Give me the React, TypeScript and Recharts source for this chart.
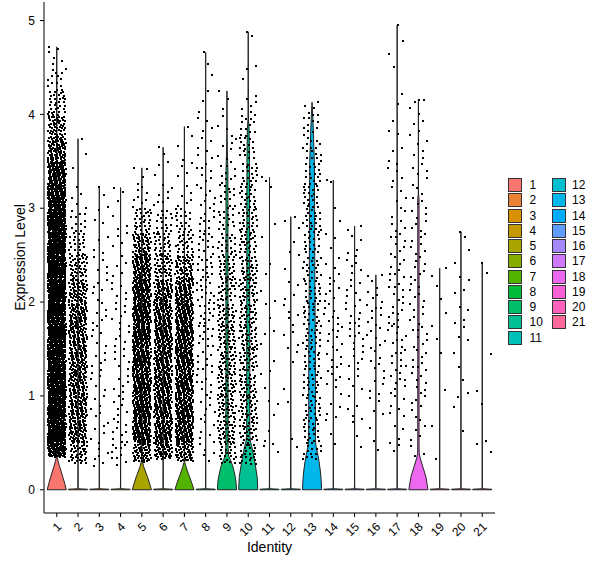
import { ComposedChart, Scatter, XAxis, YAxis } from 'recharts';

const FONT = '"Liberation Sans", Arial, Helvetica, sans-serif';

const identities = ['1', '2', '3', '4', '5', '6', '7', '8', '9', '10', '11', '12', '13', '14', '15', '16', '17', '18', '19', '20', '21'];
const identityTicks = [1, 2, 3, 4, 5, 6, 7, 8, 9, 10, 11, 12, 13, 14, 15, 16, 17, 18, 19, 20, 21];
const levelTicks = [0, 1, 2, 3, 4, 5];

const identityColors = [
  '#F8766D', '#EB8335', '#DA8F00', '#C49A00', '#A9A400', '#86AC00', '#53B400',
  '#00BA38', '#00BE6C', '#00C094', '#00C0B5', '#00BDD2', '#00B6EB', '#00ABFD',
  '#619CFF', '#A58AFF', '#CF78FF', '#EC69EF', '#FB61D7', '#FF62BC', '#FF6A9A',
];

// smallest and largest non-zero expression per identity
const lowestLevel = [0.35, 0.28, 0.22, 0.2, 0.3, 0.33, 0.3, 0.3, 0.27, 0.27, 0.35, 0.4, 0.3, 0.45, 0.35, 0.35, 0.35, 0.3, 0.3, 0.55, 0.3];
const highestLevel = [4.72, 3.74, 3.23, 3.22, 3.43, 3.65, 3.87, 4.66, 4.25, 4.88, 3.33, 2.91, 4.13, 3.3, 2.81, 2.29, 4.95, 4.15, 2.36, 2.75, 2.42];

// expressing cells per 0.25-wide bin; bin k covers 0.25 + 0.25k .. 0.5 + 0.25k
const BIN = 0.25;
const cellsPerBin: number[][] = [
  [100, 175, 175, 175, 175, 175, 175, 175, 175, 170, 160, 140, 115, 80, 55, 30, 14, 5],
  [40, 75, 75, 75, 75, 75, 75, 65, 45, 22, 12, 5, 1, 1],
  [6, 6, 6, 5, 6, 6, 6, 6, 5, 4, 3, 2],
  [10, 9, 7, 7, 7, 7, 7, 6, 5, 4, 3, 2],
  [55, 110, 110, 110, 110, 110, 110, 105, 90, 60, 30, 8, 3],
  [50, 90, 90, 90, 90, 90, 85, 75, 45, 30, 18, 8, 3, 1],
  [55, 100, 100, 100, 100, 100, 95, 80, 55, 30, 18, 6, 4, 2, 1],
  [5, 6, 7, 8, 10, 12, 14, 14, 14, 12, 10, 8, 8, 6, 4, 3, 1, 1],
  [25, 40, 40, 40, 40, 38, 36, 32, 28, 22, 16, 13, 10, 6, 4, 2],
  [25, 35, 35, 35, 35, 35, 35, 35, 33, 30, 27, 22, 20, 17, 13, 6, 2, 1, 1],
  [3, 2, 3, 2, 2, 3, 2, 2, 2, 1, 1, 1, 1],
  [1, 1, 1, 1, 2, 4, 5, 4, 2, 2, 2],
  [15, 20, 20, 20, 20, 20, 20, 20, 20, 20, 20, 20, 18, 16, 12, 3],
  [1, 2, 4, 6, 8, 8, 8, 7, 5, 3, 1, 1, 1],
  [1, 2, 4, 5, 7, 8, 8, 7, 6, 4, 1],
  [1, 2, 4, 5, 6, 7, 8, 6, 1],
  [2, 4, 6, 8, 9, 9, 9, 8, 8, 8, 6, 5, 5, 3, 3, 2, 0, 2, 1],
  [3, 5, 6, 7, 8, 8, 7, 7, 7, 7, 7, 6, 6, 5, 5, 3],
  [1, 1, 0, 1, 1, 2, 1, 2, 1],
  [0, 1, 2, 2, 2, 3, 4, 3, 2, 2],
  [2, 1, 1, 1, 1, 0, 0, 0, 1],
];

// violin half-widths (in identity units) at given levels; scale = "width"
const zeroSpike = [[0, 0.45], [0.006, 0.45], [0.011, 0.01], [0.05, 0.004]];
const violinShapes: Record<number, number[][]> = {
  1: [[0, 0.45], [0.07, 0.37], [0.14, 0.28], [0.2, 0.2], [0.25, 0.13], [0.3, 0.07], [0.34, 0.025], [0.4, 0.012], [4.3, 0.01]],
  5: [[0, 0.45], [0.07, 0.36], [0.14, 0.26], [0.2, 0.16], [0.25, 0.08], [0.3, 0.03], [0.35, 0.01]],
  7: [[0, 0.45], [0.07, 0.35], [0.14, 0.24], [0.2, 0.14], [0.25, 0.07], [0.29, 0.02], [0.35, 0.008]],
  9: [[0, 0.45], [0.07, 0.43], [0.14, 0.39], [0.24, 0.29], [0.31, 0.18], [0.36, 0.08], [0.45, 0.055], [3.4, 0.045], [3.6, 0.02], [3.8, 0.008]],
  10: [[0, 0.45], [0.14, 0.42], [0.31, 0.3], [0.45, 0.18], [0.52, 0.1], [0.6, 0.075], [2.0, 0.07], [3.5, 0.06], [3.85, 0.04], [3.95, 0.01]],
  13: [[0, 0.45], [0.1, 0.43], [0.2, 0.39], [0.3, 0.33], [0.4, 0.25], [0.46, 0.19], [0.52, 0.16], [1.5, 0.155], [2.3, 0.13], [3.0, 0.12], [3.5, 0.11], [3.65, 0.085], [3.8, 0.065], [4.0, 0.03]],
  18: [[0, 0.45], [0.14, 0.35], [0.25, 0.2], [0.33, 0.09], [0.39, 0.035], [0.5, 0.03], [3.1, 0.03], [3.15, 0.006]],
};

function violinOutline(i: number) {
  const center = i + 1;
  const profile = [...(violinShapes[center] ?? zeroSpike), [highestLevel[i], 0]];
  const left = profile.map(([level, half]) => ({ x: center - half, y: level }));
  const right = [...profile].reverse().map(([level, half]) => ({ x: center + half, y: level }));
  return [...left, ...right, left[0]];
}

// jittered cells: each bin's count spread over the bin height and the jitter width
const JITTER = 0.42;
const frac = (v: number) => v - Math.floor(v);
const cells: { x: number; y: number }[] = [];
let seq = 0;
const nextJitter = () => {
  seq += 1;
  return [frac(0.5 + seq * 0.7548776662), frac(0.5 + seq * 0.569840291)];
};
cellsPerBin.forEach((bins, i) => {
  bins.forEach((count, k) => {
    const lo = Math.max(BIN + k * BIN, lowestLevel[i]);
    const hi = Math.min(2 * BIN + k * BIN, highestLevel[i]);
    if (hi <= lo) return;
    for (let c = 0; c < count; c++) {
      const [u, v] = nextJitter();
      cells.push({ x: i + 1 + (u - 0.5) * 2 * JITTER, y: lo + v * (hi - lo) });
    }
  });
  const [u] = nextJitter();
  cells.push({ x: i + 1 + (u - 0.5) * 2 * JITTER, y: highestLevel[i] });
});

const noMarker = () => <g />;

function CellDot(props: any) {
  const { cx, cy } = props;
  return <rect x={Math.round(cx) - 1} y={Math.round(cy) - 1} width={2} height={2} fill="#000" />;
}

function IdentityTick(props: any) {
  const { x, y, payload } = props;
  const ax = x + 5.4;
  const ay = y + 8.5;
  return (
    <text x={ax} y={ay} transform={`rotate(-45 ${ax} ${ay})`} textAnchor="end" fontSize={12} fill="#000">
      {identities[payload.value - 1]}
    </text>
  );
}

function LevelTitle(props: any) {
  const vb = props.viewBox ?? { x: 0, y: 2, width: 44, height: 511 };
  const x = vb.x + 25;
  const y = vb.y + vb.height / 2;
  return (
    <text x={x} y={y} transform={`rotate(-90 ${x} ${y})`} textAnchor="middle" fontSize={14} fill="#000">
      Expression Level
    </text>
  );
}

const LEGEND_TOP = 178;
const LEGEND_STEP = 15.25;

export default function App() {
  return (
    <div style={{ position: 'absolute', left: 0, top: 0, width: 600, height: 568, background: '#fff', fontFamily: FONT }}>
      <ComposedChart width={600} height={568} margin={{ top: 2, right: 105, bottom: 0, left: 0 }}>
        <XAxis
          type="number"
          dataKey="x"
          domain={[0.4, 21.6]}
          ticks={identityTicks}
          interval={0}
          allowDataOverflow
          height={55}
          tickSize={4}
          tickMargin={2}
          tick={<IdentityTick />}
          axisLine={{ stroke: '#000', strokeWidth: 1 }}
          tickLine={{ stroke: '#000', strokeWidth: 1 }}
          label={{ value: 'Identity', position: 'insideBottom', offset: 16, fill: '#000', fontSize: 14 }}
        />
        <YAxis
          type="number"
          dataKey="y"
          domain={[-0.2475, 5.1975]}
          ticks={levelTicks}
          allowDataOverflow
          width={44}
          tickSize={4}
          tickMargin={5}
          tick={{ fill: '#000', fontSize: 12 }}
          axisLine={{ stroke: '#000', strokeWidth: 1 }}
          tickLine={{ stroke: '#000', strokeWidth: 1 }}
          label={<LevelTitle />}
        />
        {identities.map((id, i) => (
          <Scatter
            key={`violin-${id}`}
            data={violinOutline(i)}
            line={{ fill: identityColors[i], stroke: '#222222', strokeWidth: 1 }}
            shape={noMarker}
            legendType="none"
            isAnimationActive={false}
          />
        ))}
        <Scatter data={cells} shape={CellDot} legendType="none" isAnimationActive={false} />
      </ComposedChart>
      {identities.map((id, i) => {
        const col = i < 11 ? 0 : 1;
        const row = col ? i - 11 : i;
        const top = LEGEND_TOP + row * LEGEND_STEP;
        return (
          <div key={`key-${id}`}>
            <div
              style={{
                position: 'absolute',
                left: col ? 552 : 508,
                top,
                width: 12,
                height: 12,
                border: '1px solid #333',
                background: identityColors[i],
              }}
            />
            <div
              style={{
                position: 'absolute',
                left: col ? 572 : 529.5,
                top,
                height: 14,
                lineHeight: '15px',
                fontSize: 12,
                color: '#000',
              }}
            >
              {id}
            </div>
          </div>
        );
      })}
    </div>
  );
}
